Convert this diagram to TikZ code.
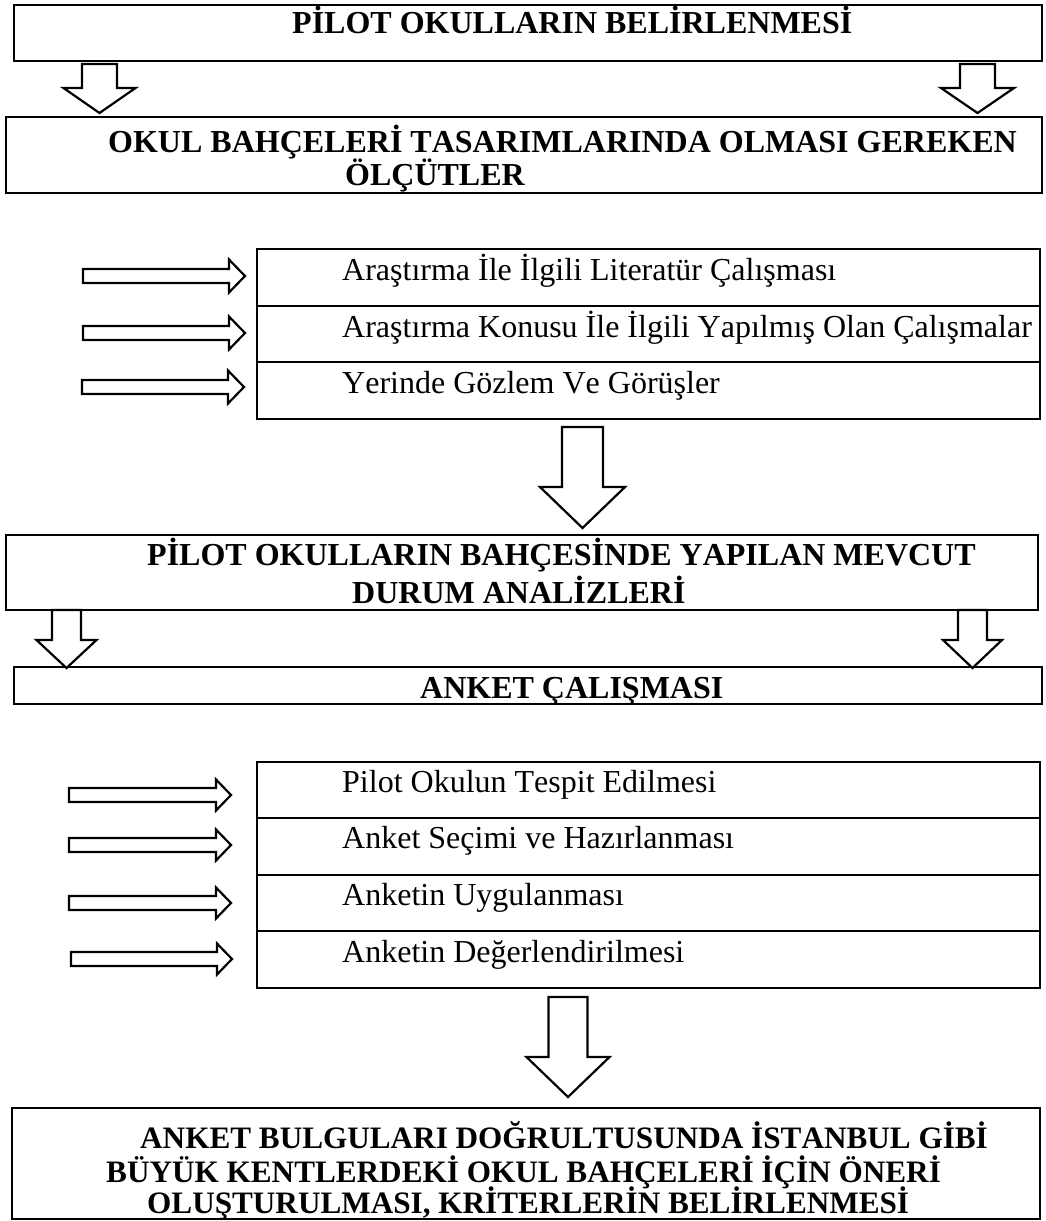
\documentclass[tikz,border=0pt]{standalone}
\usepackage{fontspec}
\setmainfont[Kerning=Off]{Liberation Serif}
\usetikzlibrary{fit}
\tikzset{
  boxa/.style={draw, line width=2.8pt, inner sep=0pt},
  cell/.style={draw, line width=2.6pt, inner sep=0pt},
  arr/.style={draw, fill=white, line width=2.2pt, line join=miter},
  bt/.style={anchor=base west, inner sep=0pt, font=\bfseries\fontsize{32}{34}\selectfont},
  bts/.style={anchor=base west, inner sep=0pt, font=\bfseries\fontsize{31.2}{34}\selectfont},
  rt/.style={anchor=base west, inner sep=0pt, font=\fontsize{32}{34}\selectfont}
}
% down block arrow: cx, half shaft, top, head base, half head, tip y
\newcommand{\dnarrow}[6]{\draw[arr] ({#1-#2},#3) -- ({#1+#2},#3) -- ({#1+#2},#4) -- ({#1+#5},#4) -- (#1,#6) -- ({#1-#5},#4) -- ({#1-#2},#4) -- cycle;}
% right block arrow: x0, shaft end, tip x, cy, half shaft, half head
\newcommand{\rtarrow}[6]{\draw[arr] (#1,{#4-#5}) -- (#2,{#4-#5}) -- (#2,{#4-#6}) -- (#3,#4) -- (#2,{#4+#6}) -- (#2,{#4+#5}) -- (#1,{#4+#5}) -- cycle;}
\begin{document}
\begin{tikzpicture}[x=1pt,y=-1pt]
\useasboundingbox (0,0) rectangle (1045,1221);

% boxes
\node[boxa, fit={(14,5)(1042,61)}] (b1) {};
\node[boxa, fit={(6,117)(1042,193)}] (b2) {};
\node[cell, fit={(257,249)(1040,306)}] (g1a) {};
\node[cell, fit={(257,306)(1040,362)}] (g1b) {};
\node[cell, fit={(257,362)(1040,419)}] (g1c) {};
\node[boxa, fit={(6,535)(1038,610)}] (b3) {};
\node[boxa, fit={(14,667)(1042,704)}] (b4) {};
\node[cell, fit={(257,762)(1040,818)}] (g2a) {};
\node[cell, fit={(257,818)(1040,875)}] (g2b) {};
\node[cell, fit={(257,875)(1040,931)}] (g2c) {};
\node[cell, fit={(257,931)(1040,988)}] (g2d) {};
\node[boxa, fit={(12,1108)(1040,1219)}] (b5) {};

% texts
\node[bt] (t1) at (292,33) {PİLOT OKULLARIN BELİRLENMESİ};
\node[bt] (t2a) at (108,152) {OKUL BAHÇELERİ TASARIMLARINDA OLMASI GEREKEN};
\node[bt] (t2b) at (345,185) {ÖLÇÜTLER};
\node[rt] (s1) at (342,280) {Araştırma İle İlgili Literatür Çalışması};
\node[rt] (s2) at (342,337) {Araştırma Konusu İle İlgili Yapılmış Olan Çalışmalar};
\node[rt] (s3) at (342,393) {Yerinde Gözlem Ve Görüşler};
\node[bt] (t3a) at (147,565) {PİLOT OKULLARIN BAHÇESİNDE YAPILAN MEVCUT};
\node[bt] (t3b) at (352,603) {DURUM ANALİZLERİ};
\node[bt] (t4) at (420,698) {ANKET ÇALIŞMASI};
\node[rt] (u1) at (342,792) {Pilot Okulun Tespit Edilmesi};
\node[rt] (u2) at (342,848) {Anket Seçimi ve Hazırlanması};
\node[rt] (u3) at (342,905) {Anketin Uygulanması};
\node[rt] (u4) at (342,962) {Anketin Değerlendirilmesi};
\node[bts] (t5a) at (140,1148) {ANKET BULGULARI DOĞRULTUSUNDA İSTANBUL GİBİ};
\node[bts] (t5b) at (106,1182) {BÜYÜK KENTLERDEKİ OKUL BAHÇELERİ İÇİN ÖNERİ};
\node[bts] (t5c) at (147,1213) {OLUŞTURULMASI, KRİTERLERİN BELİRLENMESİ};

% down arrows
\dnarrow{99.5}{17.5}{64}{88}{36}{113}
\dnarrow{977.5}{17.5}{64}{88}{36.5}{113}
\dnarrow{582.5}{20.5}{427}{487}{42.5}{528}
\dnarrow{66.5}{14.5}{610}{640}{30}{668}
\dnarrow{972.5}{14.5}{610}{640}{29.5}{668}
\dnarrow{568}{19.5}{997}{1057}{41.5}{1097}

% right arrows
\rtarrow{83}{229}{245}{276}{7}{16.5}
\rtarrow{83}{229}{245}{333}{7}{16.5}
\rtarrow{82}{228}{244}{387}{7}{16.5}
\rtarrow{69}{216}{231}{795}{7}{15.5}
\rtarrow{69}{216}{231}{845}{7}{15.5}
\rtarrow{69}{216}{231}{903}{7}{15.5}
\rtarrow{71}{217}{232}{959}{7}{15.5}
\end{tikzpicture}
\end{document}
